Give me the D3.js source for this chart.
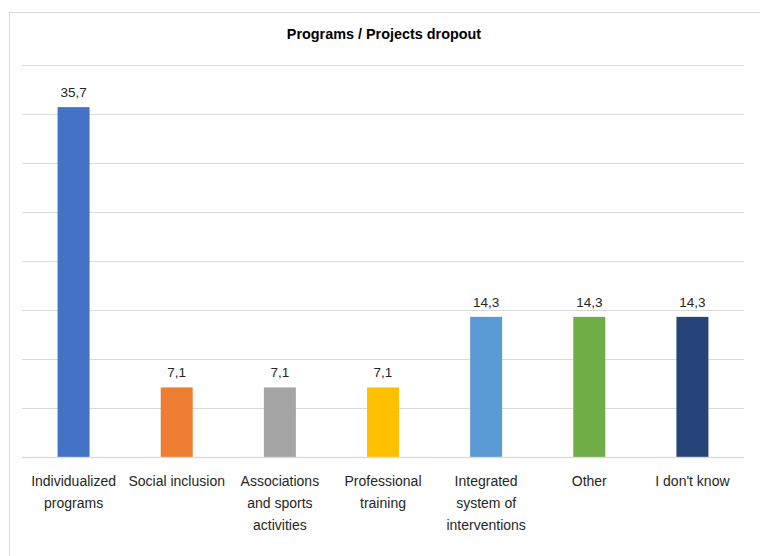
<!DOCTYPE html>
<html><head><meta charset="utf-8">
<script src="https://cdn.jsdelivr.net/npm/d3@7"></script>
<style>body{margin:0;background:#fff}svg{display:block}text{font-family:"Liberation Sans",Arial,sans-serif}</style>
</head><body>
<svg id="c" width="760" height="556"></svg>
<script>
const categories = [["Individualized","programs"],["Social inclusion"],["Associations","and sports","activities"],["Professional","training"],["Integrated","system of","interventions"],["Other"],["I don't know"]];
const values = [35.7, 7.1, 7.1, 7.1, 14.3, 14.3, 14.3];
const labels = ["35,7","7,1","7,1","7,1","14,3","14,3","14,3"];
const colors = ["#4472C4","#ED7D31","#A5A5A5","#FFC000","#5B9BD5","#70AD47","#264478"];
const gridTicks = [0,5,10,15,20,25,30,35,40];
const title = "Programs / Projects dropout";

const svg = d3.select("#c");
svg.append("rect").attr("x",9.5).attr("y",12.5).attr("width",800).attr("height",600)
  .attr("fill","#fff").attr("stroke","#d9d9d9").attr("stroke-width",1);

const x = d3.scaleBand().domain(d3.range(values.length)).range([22,744]).paddingInner(0.69).paddingOuter(0.345);
const y = d3.scaleLinear().domain([0,40]).range([457,65]);

svg.append("g").selectAll("line").data(gridTicks).join("line")
  .attr("x1",22).attr("x2",744).attr("y1",d=>Math.round(y(d))+0.5).attr("y2",d=>Math.round(y(d))+0.5)
  .attr("stroke","#d9d9d9").attr("stroke-width",1);

svg.append("g").selectAll("rect").data(values).join("rect")
  .attr("x",(d,i)=>x(i)).attr("width",x.bandwidth())
  .attr("y",d=>y(d)).attr("height",d=>y(0)-y(d)).attr("fill",(d,i)=>colors[i]);

svg.append("line").attr("x1",22).attr("x2",744).attr("y1",457.5).attr("y2",457.5)
  .attr("stroke","#d9d9d9").attr("stroke-opacity",0.8).attr("stroke-width",1.5);

svg.append("g").selectAll("text").data(values).join("text")
  .attr("x",(d,i)=>x(i)+x.bandwidth()/2).attr("y",d=>y(d)-10)
  .attr("text-anchor","middle").attr("font-size",13.5).attr("fill","#262626")
  .text((d,i)=>labels[i]);

const cat = svg.append("g").selectAll("text").data(categories).join("text")
  .attr("x",(d,i)=>x(i)+x.bandwidth()/2).attr("y",486)
  .attr("text-anchor","middle").attr("font-size",14).attr("fill","#262626");
cat.selectAll("tspan").data(d=>d).join("tspan")
  .attr("x",function(){return this.parentNode.getAttribute("x");})
  .attr("dy",(d,j)=>j===0?0:22).text(d=>d);

svg.append("text").attr("x",384).attr("y",39).attr("text-anchor","middle")
  .attr("font-size",14.4).attr("font-weight","bold").attr("fill","#000").text(title);
</script>
</body></html>
